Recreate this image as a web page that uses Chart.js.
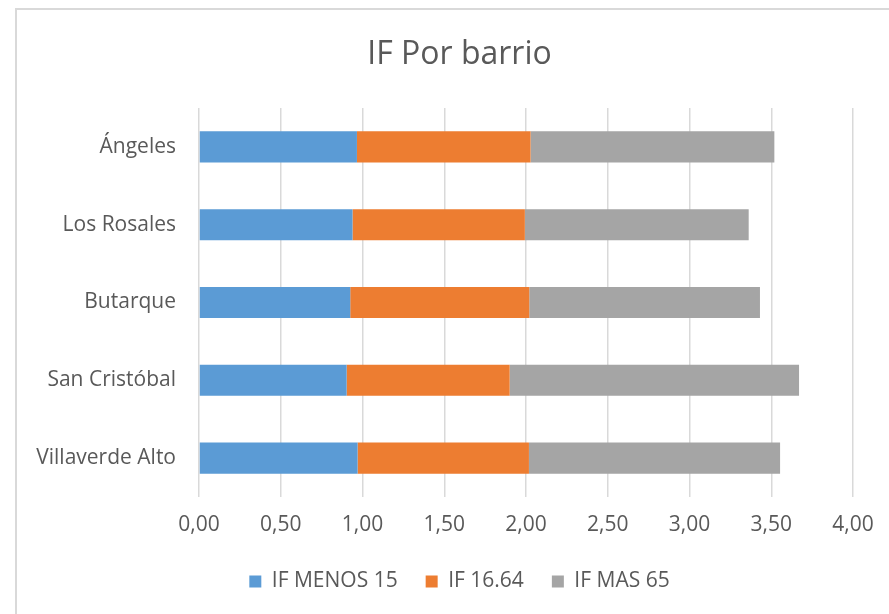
<!DOCTYPE html>
<html>
<head>
<meta charset="utf-8">
<script src="https://cdn.jsdelivr.net/npm/chart.js@4"></script>
<style>
    html, body { margin: 0; padding: 0; background: #fff; overflow: hidden; }
    #frame {
        position: absolute; left: 15px; top: 8px; width: 900px; height: 640px;
        border: 2px solid #d9d9d9; box-sizing: border-box;
    }
    #wrap { position: absolute; left: 0; top: 0; width: 889px; height: 614px; }
</style>
</head>
<body>
<div id="frame"></div>
<div id="wrap"><canvas id="chart"></canvas></div>
<script>
const barrios = ["Ángeles", "Los Rosales", "Butarque", "San Cristóbal", "Villaverde Alto"];
const ifMenos15 = [0.966, 0.939, 0.925, 0.903, 0.970];
const if1664 = [1.062, 1.054, 1.095, 0.997, 1.048];
const ifMas65 = [1.491, 1.369, 1.411, 1.770, 1.536];
const seriesNames = ["IF MENOS 15", "IF 16.64", "IF MAS 65"];
const colors = ["#5B9BD5", "#ED7D31", "#A5A5A5"];

const fontFamily = "'Open Sans', 'Liberation Sans', sans-serif";
const textColor = "#595959";

const ctx = document.getElementById("chart").getContext("2d");
new Chart(ctx, {
    type: "bar",
    data: {
        labels: barrios,
        datasets: [ifMenos15, if1664, ifMas65].map((vals, i) => ({
            label: seriesNames[i],
            data: vals,
            backgroundColor: colors[i],
            borderWidth: 0,
            barPercentage: 0.4,
            categoryPercentage: 1
        }))
    },
    options: {
        indexAxis: "y",
        responsive: true,
        maintainAspectRatio: false,
        animation: false,
        layout: { padding: { top: 0, right: 0, bottom: 12, left: 30 } },
        scales: {
            x: {
                stacked: true,
                min: 0,
                max: 4,
                border: { display: false },
                grid: { color: "#d9d9d9", lineWidth: 1.5, drawTicks: false },
                ticks: {
                    stepSize: 0.5,
                    padding: 15,
                    color: textColor,
                    font: { family: fontFamily, size: 21 },
                    callback: (v) => v.toFixed(2).replace(".", ",")
                },
                afterFit: (scale) => { scale.height = 46; }
            },
            y: {
                stacked: true,
                border: { display: false },
                grid: { display: false, drawTicks: false },
                ticks: {
                    padding: 23,
                    color: textColor,
                    font: { family: fontFamily, size: 21 }
                },
                afterFit: (scale) => { scale.width = 169; }
            },
            // empty space on the right so the title centres like the original
            spacer: {
                type: "linear",
                position: "right",
                border: { display: false },
                grid: { display: false, drawTicks: false },
                ticks: { display: false },
                afterFit: (scale) => { scale.width = 36; }
            }
        },
        plugins: {
            title: {
                display: true,
                text: "IF Por barrio",
                color: textColor,
                font: { family: fontFamily, size: 32, weight: "normal" },
                padding: { top: 36, bottom: 33.6 }
            },
            legend: {
                position: "bottom",
                maxHeight: 60,
                labels: {
                    boxWidth: 12,
                    boxHeight: 12,
                    color: textColor,
                    font: { family: fontFamily, size: 21 },
                    padding: 28
                }
            },
            tooltip: { enabled: false }
        }
    }
});
</script>
</body>
</html>
